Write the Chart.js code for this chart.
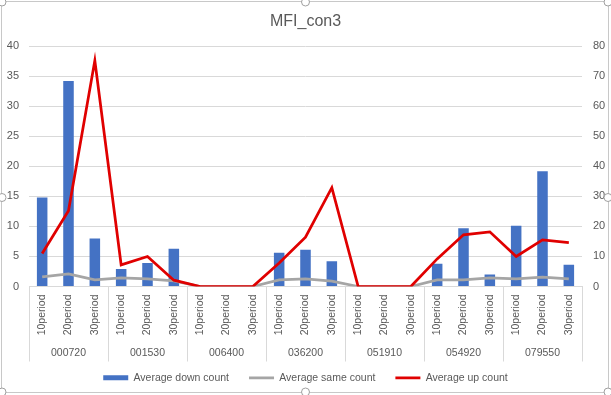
<!DOCTYPE html>
<html>
<head>
<meta charset="utf-8">
<script src="https://cdn.jsdelivr.net/npm/chart.js@4.4.1/dist/chart.umd.min.js"></script>
<style>
  html, body { margin: 0; padding: 0; background: #fff; }
  #wrap { position: relative; width: 611px; height: 395px; }
</style>
</head>
<body>
<div id="wrap"><canvas id="chart" width="611" height="395"></canvas></div>
<script>
// categories: 7 stock codes, each split in 3 periods
const GROUPS  = ['000720', '001530', '006400', '036200', '051910', '054920', '079550'];
const PERIODS = ['10period', '20period', '30period'];

// series
const DOWN_COUNT = [14.8, 34.2, 8.0,  2.9, 3.9, 6.3,  0, 0, 0,  5.6, 6.1, 4.2,  0, 0, 0,  3.8, 9.7, 2.0,  10.1, 19.2, 3.6];
const SAME_COUNT = [3.2, 4.2, 2.2,  2.9, 2.5, 1.9,  0, 0, 0,  2.2, 2.5, 1.8,  0, 0, 0,  2.2, 2.2, 2.9,  2.5, 3.1, 2.5];
const UP_COUNT   = [11.0, 25.2, 75.2,  7.2, 10.0, 2.1,  0, 0, 0,  7.8, 16.4, 32.9,  0, 0, 0,  9.2, 17.2, 18.2,  10.0, 15.5, 14.6];

// axis ranges
const LEFT_MAX = 40, LEFT_STEP = 5;
const RIGHT_MAX = 80, RIGHT_STEP = 10;

const TEXT = '#595959';
const GRID = '#d9d9d9';
const FONT = '"Liberation Sans", Arial, sans-serif';

const labels = GROUPS.flatMap(() => PERIODS);

// second level of the category axis: group names + separators
const groupAxis = {
    id: 'groupAxis',
    afterDraw(chart) {
        const { ctx, chartArea, scales: { x } } = chart;
        const n    = PERIODS.length;
        const half = (x.getPixelForValue(1) - x.getPixelForValue(0)) / 2;
        const top  = chartArea.bottom;
        ctx.save();
        ctx.strokeStyle = GRID;
        ctx.lineWidth = 1;
        for (let g = 0; g <= GROUPS.length; g++) {
            const px = g < GROUPS.length
                ? x.getPixelForValue(g * n) - half
                : x.getPixelForValue(g * n - 1) + half;
            const sx = Math.round(px) + 0.5;
            ctx.beginPath(); ctx.moveTo(sx, top); ctx.lineTo(sx, top + 75); ctx.stroke();
        }
        ctx.fillStyle = TEXT;
        ctx.font = '10.5px ' + FONT;
        ctx.textAlign = 'center';
        ctx.textBaseline = 'middle';
        GROUPS.forEach((g, i) => ctx.fillText(g, x.getPixelForValue(i * n + 1), top + 66.5));
        ctx.restore();
    }
};

// chart frame with selection handles
const frame = {
    id: 'frame',
    afterDraw(chart) {
        const { ctx, width, height } = chart;
        ctx.save();
        ctx.strokeStyle = '#c8c8c8';
        ctx.lineWidth = 1;
        ctx.strokeRect(1.5, 1.5, width - 4, height - 4);
        const xs = [2, width / 2, width - 3], ys = [2, height / 2, height - 3];
        ctx.fillStyle = '#fff';
        ctx.strokeStyle = '#a0a0a0';
        xs.forEach((hx, i) => ys.forEach((hy, j) => {
            if (i === 1 && j === 1) return;
            ctx.beginPath(); ctx.arc(hx, hy, 4, 0, Math.PI * 2); ctx.fill(); ctx.stroke();
        }));
        ctx.restore();
    }
};

new Chart(document.getElementById('chart'), {
    data: {
        labels,
        datasets: [
            {
                type: 'bar', label: 'Average down count', data: DOWN_COUNT, yAxisID: 'y',
                backgroundColor: '#4472C4', borderWidth: 0,
                barPercentage: 0.4, categoryPercentage: 1, order: 3,
                pointStyle: 'rect',
            },
            {
                type: 'line', label: 'Average same count', data: SAME_COUNT, yAxisID: 'y1',
                borderColor: '#A5A5A5', backgroundColor: '#A5A5A5', borderWidth: 2.75,
                pointRadius: 0, tension: 0, order: 2, pointStyle: 'line',
            },
            {
                type: 'line', label: 'Average up count', data: UP_COUNT, yAxisID: 'y1',
                borderColor: '#E00000', backgroundColor: '#E00000', borderWidth: 2.75,
                pointRadius: 0, tension: 0, order: 1, pointStyle: 'line',
            },
        ],
    },
    options: {
        responsive: false,
        animation: false,
        devicePixelRatio: 1,
        layout: { padding: { left: 0, right: 0, top: 0, bottom: 2 } },
        plugins: {
            title: {
                display: true, text: 'MFI_con3', color: TEXT,
                font: { family: FONT, size: 16, weight: 'normal' },
                padding: { top: 12, bottom: 15 },
            },
            legend: {
                position: 'bottom',
                labels: {
                    usePointStyle: true, pointStyleWidth: 25, boxHeight: 5,
                    color: TEXT, padding: 20,
                    font: { family: FONT, size: 10.5 },
                    sort: (a, b) => a.datasetIndex - b.datasetIndex,
                },
            },
            tooltip: { enabled: false },
        },
        scales: {
            x: {
                type: 'category',
                grid: { display: false, drawTicks: false },
                border: { color: GRID },
                ticks: {
                    color: TEXT, font: { family: FONT, size: 10.5 },
                    minRotation: 90, maxRotation: 90, autoSkip: false, padding: 8,
                },
                afterFit: s => { s.height = 66; },
            },
            y: {
                position: 'left', min: 0, max: LEFT_MAX,
                grid: { color: GRID, drawTicks: false },
                border: { display: false },
                ticks: { stepSize: LEFT_STEP, color: TEXT, font: { family: FONT, size: 11 }, padding: 10 },
                afterFit: s => { s.width = 29; },
            },
            y1: {
                position: 'right', min: 0, max: RIGHT_MAX,
                grid: { display: false, drawTicks: false },
                border: { display: false },
                ticks: { stepSize: RIGHT_STEP, color: TEXT, font: { family: FONT, size: 11 }, padding: 11 },
                afterFit: s => { s.width = 29; },
            },
        },
    },
    plugins: [groupAxis, frame],
});
</script>
</body>
</html>
